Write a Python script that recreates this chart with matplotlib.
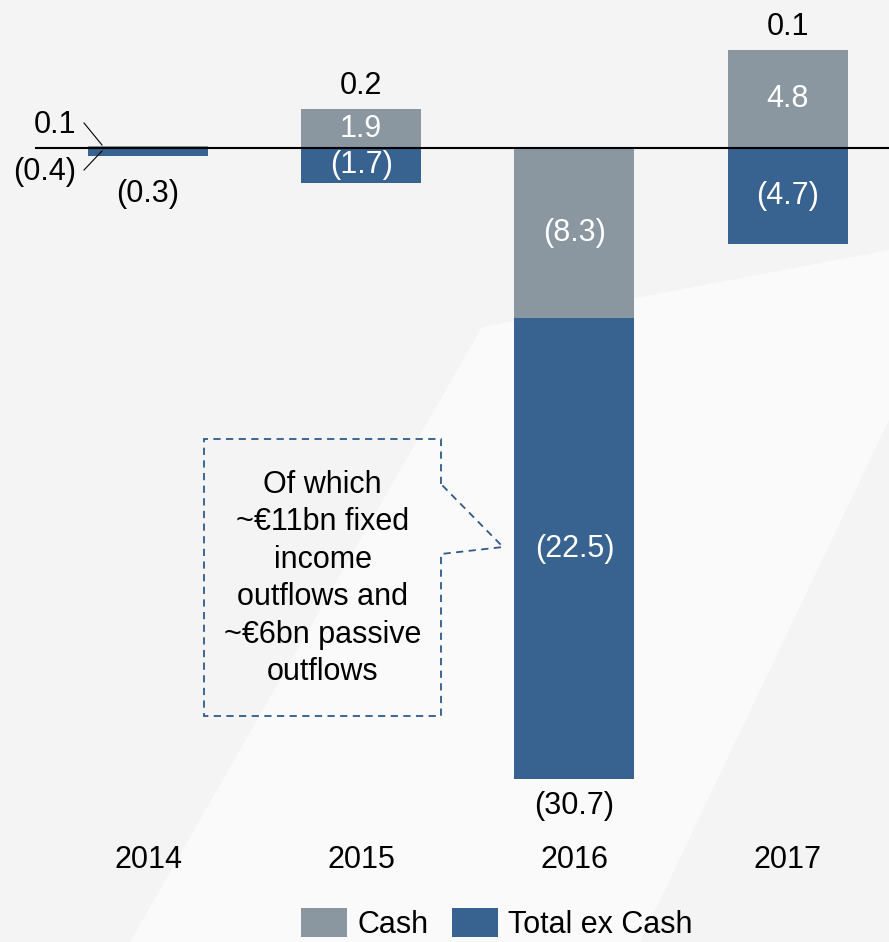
import matplotlib.pyplot as plt
from matplotlib.patches import Polygon

# data (EUR bn)
years = ["2014", "2015", "2016", "2017"]
cash = [0.1, 1.9, -8.3, 4.8]
ex_cash = [-0.4, -1.7, -22.5, -4.7]
totals = [-0.3, 0.2, -30.7, 0.1]

GREY = "#8a96a0"
BLUE = "#38628f"
plt.rcParams["font.family"] = ["Liberation Sans", "DejaVu Sans"]
FS = 22


def fmt(v):
    return f"({abs(v):.1f})" if v < 0 else f"{v:.1f}"


W, H = 889, 942
fig = plt.figure(figsize=(W / 100, H / 100), dpi=100)
fig.patch.set_facecolor("#f4f4f4")

# faint diagonal shape in the background (pixel coords)
bg = fig.add_axes([0, 0, 1, 1])
bg.set_xlim(0, W)
bg.set_ylim(H, 0)
bg.axis("off")
bg.add_patch(Polygon([(482, 327), (889, 250), (889, 420), (640, 942), (130, 942)],
                     closed=True, color="#fafafa", lw=0))

ax = fig.add_axes([0, 0, 1, 1], facecolor="none")
px_x = 213.2   # px per category
px_y = 20.5    # px per bn
x0, y0 = 148, 148
ax.set_xlim(-x0 / px_x, (W - x0) / px_x)
ax.set_ylim(-(H - y0) / px_y, y0 / px_y)
ax.axis("off")


def dx(px):
    return (px - x0) / px_x


def dy(py):
    return (y0 - py) / px_y


x = list(range(len(years)))
width = 0.563

# stack: positives from 0 up, negatives from 0 down
cash_bottom = [0 for c in cash]
ex_bottom = [c if (c < 0 and e < 0) else 0 for c, e in zip(cash, ex_cash)]
ax.bar(x, cash, width, bottom=cash_bottom, color=GREY, label="Cash", zorder=2)
ax.bar(x, ex_cash, width, bottom=ex_bottom, color=BLUE, label="Total ex Cash", zorder=2)

ax.axhline(0, xmin=36 / W, xmax=1, color="black", lw=1.5, zorder=3)

# segment labels (2014 handled separately)
for i in x[1:]:
    ax.text(i, cash_bottom[i] + cash[i] / 2, fmt(cash[i]), ha="center", va="center",
            color="white", fontsize=FS, zorder=4)
    ax.text(i, ex_bottom[i] + ex_cash[i] / 2, fmt(ex_cash[i]), ha="center", va="center",
            color="white", fontsize=FS, zorder=4)
    top = max(cash[i], 0) + max(ex_cash[i], 0)
    bot = min(cash[i], 0) + min(ex_cash[i], 0)
    if totals[i] >= 0:
        ax.annotate(fmt(totals[i]), (i, top), xytext=(0, 16.5), textcoords="offset points",
                    ha="center", va="center", fontsize=FS)
    else:
        ax.annotate(fmt(totals[i]), (i, bot), xytext=(0, -19), textcoords="offset points",
                    ha="center", va="center", fontsize=FS)

# 2014: values too small for inside labels, use leader lines
ax.plot([dx(84), dx(102)], [dy(123), dy(145)], color="black", lw=0.8, zorder=4)
ax.plot([dx(84), dx(102)], [dy(170), dy(151)], color="black", lw=0.8, zorder=4)
ax.text(dx(55), dy(125), fmt(cash[0]), ha="center", va="center", fontsize=FS)
ax.text(dx(45), dy(172), fmt(ex_cash[0]), ha="center", va="center", fontsize=FS)
ax.annotate(fmt(totals[0]), (0, -0.4), xytext=(0, -27), textcoords="offset points",
            ha="center", va="center", fontsize=FS)

# year labels
for i, yr in zip(x, years):
    ax.text(i, dy(860), yr, ha="center", va="center", fontsize=FS)

# callout box with pointer (figure pixel coords)
callout = [(441, 484), (441, 439), (204, 439), (204, 716), (441, 716), (441, 554),
           (503, 547), (441, 484)]
bg.add_patch(Polygon(callout, closed=True, fill=False, edgecolor="#2f5a8a",
                     lw=1.3, ls=(0, (4, 3)), zorder=5))
bg.text(322.5, 578.5, "Of which\n~€11bn fixed\nincome\noutflows and\n~€6bn passive\noutflows",
        ha="center", va="center", fontsize=FS, linespacing=1.33, zorder=6)
bg.set_zorder(0)
ax.set_zorder(1)

# legend
fig.legend(loc="center", bbox_to_anchor=(497 / W, 1 - 924 / H), ncol=2, frameon=False,
           fontsize=FS, handlelength=1.5, handleheight=1.1, handletextpad=0.35,
           columnspacing=0.75, borderaxespad=0)

fig.savefig("out.png", dpi=100, facecolor=fig.get_facecolor())
